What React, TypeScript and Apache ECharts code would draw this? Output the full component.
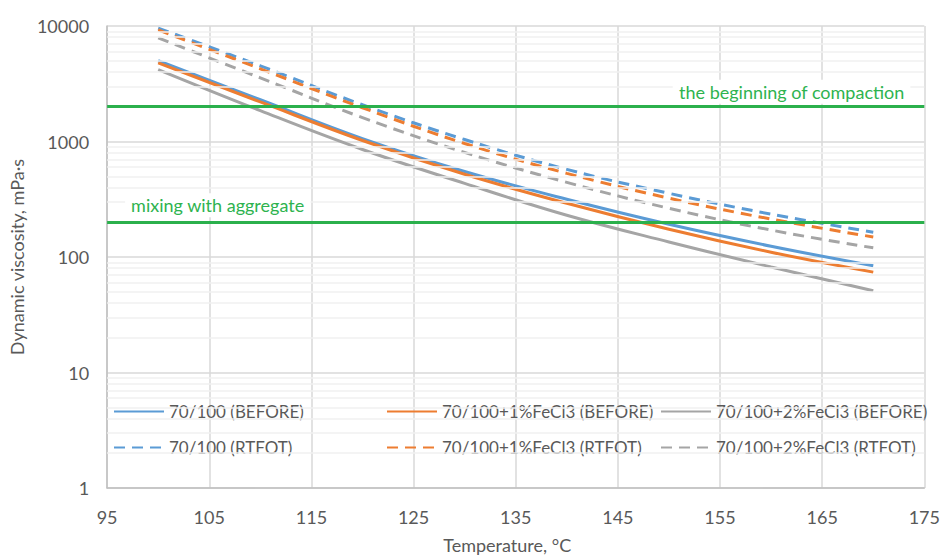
import React, { useEffect, useRef } from "react";
import * as echarts from "echarts";

// Temperatures (°C)
const temps = [100, 110, 120, 130, 140, 150, 160, 170];
// Dynamic viscosity, mPa·s
const before70 = [5000, 2300, 1060, 550, 316, 192, 124, 84];
const before1 = [4800, 2200, 1020, 520, 292, 174, 110, 74];
const before2 = [4200, 1850, 853, 434, 230, 135, 82, 51];
const rtfot70 = [9600, 4520, 2080, 1040, 574, 356, 235, 164];
const rtfot1 = [9240, 4260, 1960, 961, 530, 323, 213, 149];
const rtfot2 = [7880, 3560, 1610, 804, 443, 264, 171, 120];

const seriesNames = [
  "70/100 (BEFORE)",
  "70/100 (RTFOT)",
  "70/100+1%FeCl3 (BEFORE)",
  "70/100+1%FeCl3 (RTFOT)",
  "70/100+2%FeCl3 (BEFORE)",
  "70/100+2%FeCl3 (RTFOT)",
];

// Threshold lines
const compactionLevel = 2000;
const mixingLevel = 200;
const compactionLabel = "the beginning of compaction";
const mixingLabel = "mixing with aggregate";

// Axis ranges
const xMin = 95;
const xMax = 175;
const xStep = 10;
const yMin = 1;
const yMax = 10000;

const minorGrid: number[] = [];
[1, 10, 100, 1000].forEach((d) => {
  for (let k = 2; k <= 9; k++) minorGrid.push(k * d);
});

const BLUE = "#5b9bd5";
const ORANGE = "#ed7d31";
const GRAY = "#a5a5a5";
const GREEN = "#2bb04c";
const TEXT = "#595959";

function makeSeries(name: string, values: number[], color: string, dashed: boolean) {
  return {
    name,
    type: "line",
    data: temps.map((t, i) => [t, values[i]]),
    symbol: "none",
    smooth: 0.4,
    z: 3,
    lineStyle: { color, width: 3, type: dashed ? [11, 7] : "solid", cap: "butt" },
    itemStyle: { color },
  };
}

export default function App() {
  const ref = useRef<HTMLDivElement>(null);
  useEffect(() => {
    document.body.style.margin = "0";
    if (!ref.current) return;
    const chart = echarts.init(ref.current, null, { renderer: "svg" });
    const legendCommon = {
      orient: "vertical",
      top: 403,
      padding: 0,
      itemWidth: 50,
      itemHeight: 14,
      itemGap: 19,
      itemStyle: { opacity: 0 },
      textStyle: { color: TEXT, fontSize: 17, fontFamily: "Lato" },
    };
    chart.setOption({
      animation: false,
      textStyle: { fontFamily: "Lato" },
      grid: { left: 107, right: 17, top: 26, bottom: 69 },
      xAxis: {
        type: "value",
        min: xMin,
        max: xMax,
        interval: xStep,
        name: "Temperature, °C",
        nameLocation: "middle",
        nameGap: 48,
        nameTextStyle: { color: TEXT, fontSize: 18, padding: [0, 17, 0, 0] },
        axisLine: { show: true, lineStyle: { color: "#bfbfbf", width: 1.5 } },
        axisTick: { show: false },
        axisLabel: { color: TEXT, fontSize: 18, margin: 20 },
        splitLine: { show: true, lineStyle: { color: "#d9d9d9", width: 1.5 } },
      },
      yAxis: {
        type: "log",
        logBase: 10,
        min: yMin,
        max: yMax,
        name: "Dynamic viscosity, mPa·s",
        nameLocation: "middle",
        nameGap: 80,
        nameTextStyle: { color: TEXT, fontSize: 18 },
        axisLine: { show: true, lineStyle: { color: "#bfbfbf", width: 1.5 } },
        axisTick: { show: false },
        axisLabel: { color: TEXT, fontSize: 18, margin: 18, formatter: (v: number) => String(v) },
        splitLine: { show: true, lineStyle: { color: "#d9d9d9", width: 1.5 } },
      },
      legend: [
        { ...legendCommon, left: 113, data: [seriesNames[0], seriesNames[1]] },
        { ...legendCommon, left: 386, data: [seriesNames[2], seriesNames[3]] },
        { ...legendCommon, left: 660, data: [seriesNames[4], seriesNames[5]] },
      ],
      series: [
        {
          name: "minor-grid",
          type: "line",
          data: [],
          silent: true,
          z: 1,
          markLine: {
            silent: true,
            symbol: ["none", "none"],
            label: { show: false },
            lineStyle: { color: "#f0f0f0", width: 1.5, type: "solid" },
            data: minorGrid.map((v) => ({ yAxis: v })),
          },
        },
        {
          name: "thresholds",
          type: "line",
          data: [],
          silent: true,
          z: 2,
          markLine: {
            silent: true,
            symbol: ["none", "none"],
            lineStyle: { color: GREEN, width: 3, type: "solid" },
            label: {
              color: "#2eb34f",
              fontSize: 18,
              backgroundColor: "#ffffff",
              padding: [3, 6],
            },
            data: [
              {
                yAxis: compactionLevel,
                label: { formatter: compactionLabel, position: "insideEndTop", distance: [14, 3] },
              },
              {
                yAxis: mixingLevel,
                label: { formatter: mixingLabel, position: "insideStartTop", distance: [18, 5] },
              },
            ],
          },
        },
        makeSeries(seriesNames[0], before70, BLUE, false),
        makeSeries(seriesNames[1], rtfot70, BLUE, true),
        makeSeries(seriesNames[2], before1, ORANGE, false),
        makeSeries(seriesNames[3], rtfot1, ORANGE, true),
        makeSeries(seriesNames[4], before2, GRAY, false),
        makeSeries(seriesNames[5], rtfot2, GRAY, true),
      ],
    });
    return () => chart.dispose();
  }, []);
  return <div ref={ref} style={{ width: 943, height: 559 }} />;
}
